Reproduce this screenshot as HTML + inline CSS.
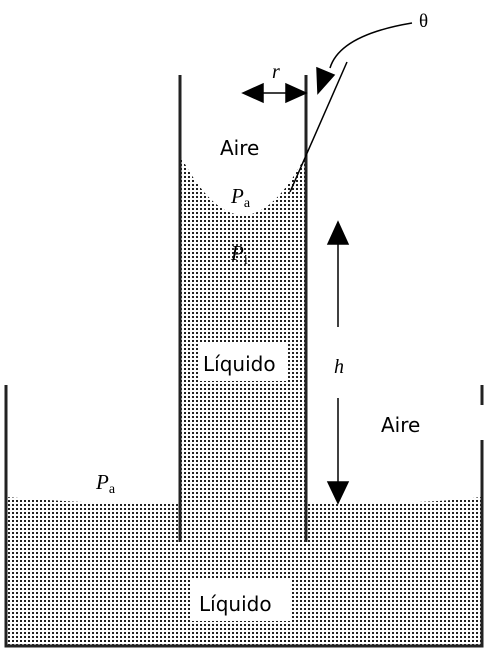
<!DOCTYPE html>
<html><head><meta charset="utf-8"><style>
html,body{margin:0;padding:0;background:#fff;width:488px;height:653px;overflow:hidden}
text{font-family:"Liberation Serif",serif}
.s{font-family:"DejaVu Sans","Liberation Sans",sans-serif;font-size:20px}
</style></head><body>
<svg width="488" height="653" viewBox="0 0 488 653">
<defs><pattern id="dots" width="4" height="4" patternUnits="userSpaceOnUse"><rect x="0" y="0" width="2" height="2" fill="#222"/></pattern></defs>
<path d="M6,497 Q120,506 180,503 L180,543 L306,543 L306,503 Q420,505 481,497 L481,646 L6,646 Z" fill="url(#dots)"/>
<path d="M180,155 Q243,275 306,155 L306,545 L180,545 Z" fill="url(#dots)"/>
<rect x="198" y="344" width="88" height="37" fill="#fff"/>
<rect x="192" y="580" width="98" height="41" fill="#fff"/>
<g stroke="#222" stroke-width="3" fill="none">
<path d="M6,385 L6,646 L482,646 L482,440 M482,405 L482,385"/>
<line x1="180" y1="75" x2="180" y2="542"/>
<line x1="306" y1="75" x2="306" y2="542"/>
</g>
<g stroke="#000" stroke-width="1.5" fill="#000">
<line x1="347" y1="62" x2="290" y2="192"/>
<path d="M412,23 Q340,35 330,68" fill="none"/>
<polygon points="317,68 334,75 318,93"/>
<line x1="258" y1="93" x2="292" y2="93"/>
<polygon points="243,93 263,84 263,102"/>
<polygon points="306,93 286,84 286,102"/>
<line x1="338" y1="243" x2="338" y2="327"/>
<polygon points="338,222 328,244 348,244"/>
<line x1="338" y1="398" x2="338" y2="485"/>
<polygon points="338,503 328,482 348,482"/>
</g>
<text x="419" y="27" font-size="19">θ</text>
<text x="272" y="78" font-size="20" font-style="italic">r</text>
<text class="s" x="220" y="155">Aire</text>
<text x="231" y="203" font-size="21" font-style="italic">P<tspan font-size="14" font-style="normal" dy="4">a</tspan></text>
<text x="231" y="260" font-size="21" font-style="italic">P<tspan font-size="14" font-style="normal" dy="4">i</tspan></text>
<text class="s" x="203" y="371">Líquido</text>
<text x="334" y="373" font-size="20" font-style="italic">h</text>
<text class="s" x="381" y="432">Aire</text>
<text x="96" y="489" font-size="21" font-style="italic">P<tspan font-size="14" font-style="normal" dy="4">a</tspan></text>
<text class="s" x="199" y="611">Líquido</text>
</svg>
</body></html>
